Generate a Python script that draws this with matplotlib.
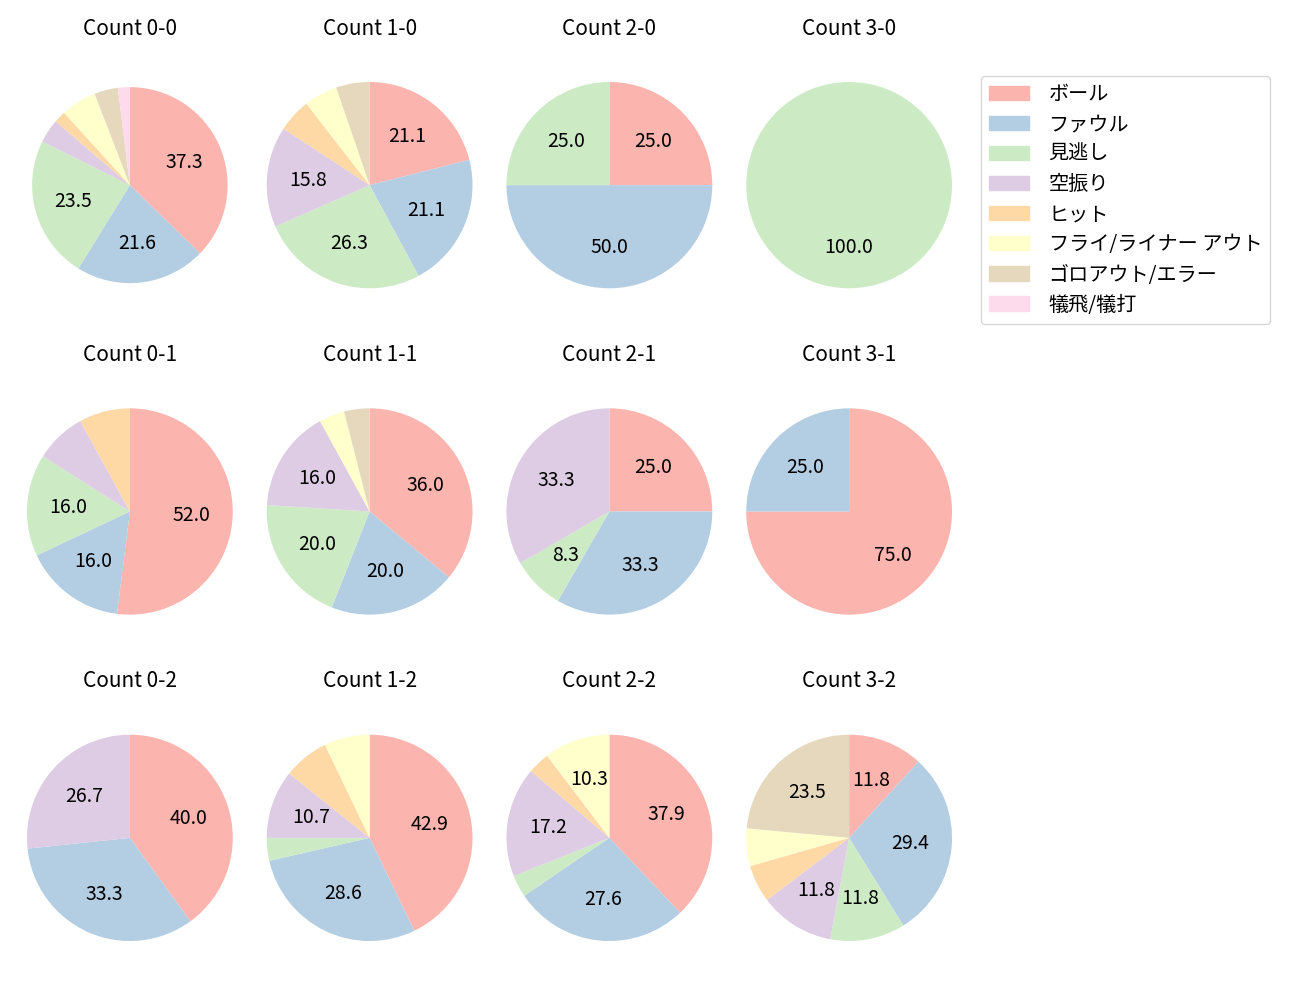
import matplotlib
matplotlib.use('Agg')
import matplotlib.pyplot as plt

plt.rcParams['font.family'] = ['Noto Sans CJK JP', 'DejaVu Sans']

# カテゴリ
categories = ['ボール', 'ファウル', '見逃し', '空振り', 'ヒット',
              'フライ/ライナー アウト', 'ゴロアウト/エラー', '犠飛/犠打']
colors = ['#fbb4ae', '#b3cde3', '#ccebc5', '#decbe4',
          '#fed9a6', '#ffffcc', '#e5d8bd', '#fddaec']

# 各カウントの球数 (カテゴリ順)
count_0_0 = [19, 11, 12, 2, 1, 3, 2, 1]
count_1_0 = [4, 4, 5, 3, 1, 1, 1, 0]
count_2_0 = [1, 2, 1, 0, 0, 0, 0, 0]
count_3_0 = [0, 0, 1, 0, 0, 0, 0, 0]
count_0_1 = [13, 4, 4, 2, 2, 0, 0, 0]
count_1_1 = [9, 5, 5, 4, 0, 1, 1, 0]
count_2_1 = [3, 4, 1, 4, 0, 0, 0, 0]
count_3_1 = [3, 1, 0, 0, 0, 0, 0, 0]
count_0_2 = [6, 5, 0, 4, 0, 0, 0, 0]
count_1_2 = [12, 8, 1, 3, 2, 2, 0, 0]
count_2_2 = [11, 8, 1, 5, 1, 3, 0, 0]
count_3_2 = [2, 5, 2, 2, 1, 1, 4, 0]

data = {
    (0, 0): count_0_0, (1, 0): count_1_0, (2, 0): count_2_0, (3, 0): count_3_0,
    (0, 1): count_0_1, (1, 1): count_1_1, (2, 1): count_2_1, (3, 1): count_3_1,
    (0, 2): count_0_2, (1, 2): count_1_2, (2, 2): count_2_2, (3, 2): count_3_2,
}

fig, axes = plt.subplots(3, 4, figsize=(13, 10), dpi=100)
fig.subplots_adjust(left=10 / 1300, right=969 / 1300, top=0.957, bottom=0.02,
                    wspace=0.0, hspace=0.148)

def fmt(p):
    return f'{p:.1f}' if p > 8.05 else ''

for (b, s), vals in data.items():
    ax = axes[s][b]
    # 0件のカテゴリは除外
    v = [x for x in vals if x > 0]
    c = [col for x, col in zip(vals, colors) if x > 0]
    r = 0.95 if (b, s) == (0, 0) else 1.0
    ax.pie(v, colors=c, startangle=90, counterclock=False, radius=r,
           autopct=fmt, pctdistance=0.6,
           textprops={'fontsize': 14})
    ax.set_xlim(-1.165, 1.165)
    ax.set_ylim(-1.378, 1.378)
    ax.set_aspect('equal', adjustable='datalim')
    ax.set_title(f'Count {b}-{s}', fontsize=15)

handles = [plt.Rectangle((0, 0), 1, 1, color=col) for col in colors]
fig.legend(handles, categories, loc='upper left',
           bbox_to_anchor=(0.7469, 0.934), fontsize=14.5,
           labelspacing=0.45, handletextpad=0.95)

fig.savefig('out.png')
